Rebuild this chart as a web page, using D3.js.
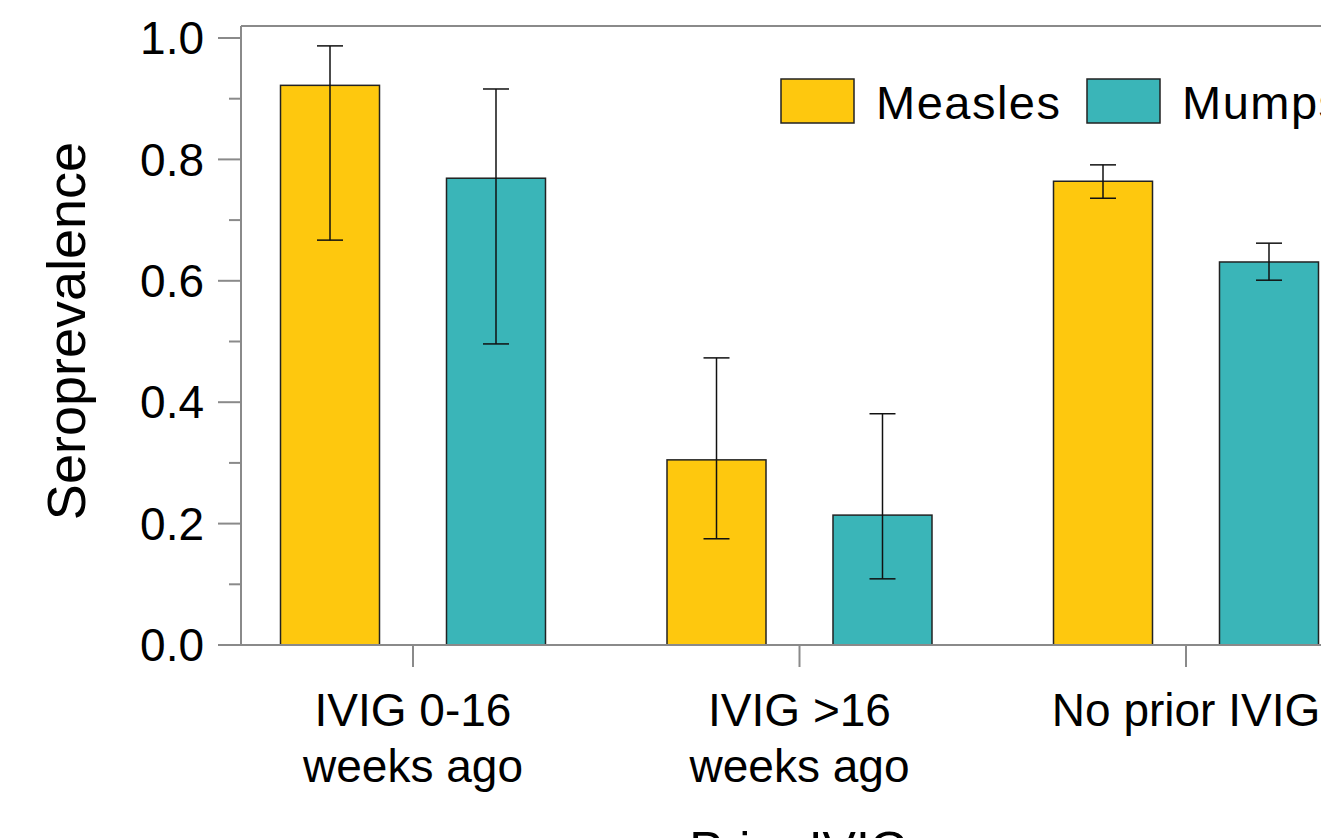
<!DOCTYPE html>
<html>
<head>
<meta charset="utf-8">
<script src="https://cdn.jsdelivr.net/npm/d3@7"></script>
<style>
  body { margin: 0; background: #fff; overflow: hidden; }
  text { font-family: "Liberation Sans", Arial, sans-serif; fill: #000; }
</style>
</head>
<body>
<svg id="chart" width="1321" height="838"></svg>
<script>
// chart data
var categories = [["IVIG 0-16", "weeks ago"], ["IVIG >16", "weeks ago"], ["No prior IVIG"]];
var series = ["Measles", "Mumps"];
var colors = ["#FEC80E", "#3AB5B8"];
var measles = [0.922, 0.305, 0.764];
var measlesLow = [0.667, 0.175, 0.736];
var measlesHigh = [0.987, 0.473, 0.791];
var mumps = [0.769, 0.214, 0.631];
var mumpsLow = [0.496, 0.109, 0.601];
var mumpsHigh = [0.916, 0.381, 0.662];
var yTicks = [0, 0.2, 0.4, 0.6, 0.8, 1.0];
var yMinor = [0.1, 0.3, 0.5, 0.7, 0.9];

var svg = d3.select("#chart");
var left = 241, top_ = 26, bottom = 645;

var y = d3.scaleLinear().domain([0, 1]).range([bottom, 38]);
var x = d3.scaleBand().domain(d3.range(categories.length)).range([219.75, 1379.25]);
var xs = d3.scaleBand().domain(series).range([0, x.bandwidth()])
    .paddingInner(0.4036).paddingOuter(0.366);

var rows = [];
for (var i = 0; i < categories.length; i++) {
  rows.push({c: i, s: "Measles", v: measles[i], lo: measlesLow[i], hi: measlesHigh[i], col: colors[0]});
  rows.push({c: i, s: "Mumps", v: mumps[i], lo: mumpsLow[i], hi: mumpsHigh[i], col: colors[1]});
}

// frame
var axisCol = "#8a8a8a";
svg.append("line").attr("x1", left).attr("x2", 1400).attr("y1", top_).attr("y2", top_)
  .attr("stroke", axisCol).attr("stroke-width", 2);
svg.append("line").attr("x1", left).attr("x2", left).attr("y1", top_).attr("y2", bottom)
  .attr("stroke", axisCol).attr("stroke-width", 2);

// bars
svg.selectAll("rect.bar").data(rows).enter().append("rect")
  .attr("class", "bar")
  .attr("x", function(d){ return x(d.c) + xs(d.s); })
  .attr("width", xs.bandwidth())
  .attr("y", function(d){ return y(d.v); })
  .attr("height", function(d){ return bottom - y(d.v); })
  .attr("fill", function(d){ return d.col; })
  .attr("stroke", "#222").attr("stroke-width", 1.5);

// error bars
var capW = 26;
var eb = svg.selectAll("g.err").data(rows).enter().append("g").attr("class", "err")
  .attr("stroke", "#111").attr("stroke-width", 1.5);
eb.append("line")
  .attr("x1", function(d){ return x(d.c) + xs(d.s) + xs.bandwidth() / 2; })
  .attr("x2", function(d){ return x(d.c) + xs(d.s) + xs.bandwidth() / 2; })
  .attr("y1", function(d){ return y(d.lo); })
  .attr("y2", function(d){ return y(d.hi); });
["lo", "hi"].forEach(function(k){
  eb.append("line")
    .attr("x1", function(d){ return x(d.c) + xs(d.s) + xs.bandwidth() / 2 - capW / 2; })
    .attr("x2", function(d){ return x(d.c) + xs(d.s) + xs.bandwidth() / 2 + capW / 2; })
    .attr("y1", function(d){ return y(d[k]); })
    .attr("y2", function(d){ return y(d[k]); });
});

// y axis ticks
svg.selectAll("line.ymaj").data(yTicks).enter().append("line")
  .attr("x1", 218).attr("x2", left)
  .attr("y1", function(d){ return y(d); }).attr("y2", function(d){ return y(d); })
  .attr("stroke", axisCol).attr("stroke-width", 2);
svg.selectAll("line.ymin").data(yMinor).enter().append("line")
  .attr("x1", 229).attr("x2", left)
  .attr("y1", function(d){ return y(d); }).attr("y2", function(d){ return y(d); })
  .attr("stroke", axisCol).attr("stroke-width", 2);
svg.selectAll("text.ytl").data(yTicks).enter().append("text")
  .attr("x", 204).attr("y", function(d){ return y(d); }).attr("dy", "0.35em")
  .attr("text-anchor", "end").style("font-size", "46px")
  .text(function(d){ return d.toFixed(1); });

// x axis
svg.append("line").attr("x1", 218).attr("x2", 1400).attr("y1", bottom).attr("y2", bottom)
  .attr("stroke", axisCol).attr("stroke-width", 2);
svg.selectAll("line.xt").data(d3.range(categories.length)).enter().append("line")
  .attr("x1", function(d){ return x(d) + x.bandwidth() / 2; })
  .attr("x2", function(d){ return x(d) + x.bandwidth() / 2; })
  .attr("y1", bottom).attr("y2", 667)
  .attr("stroke", axisCol).attr("stroke-width", 2);
var xl = svg.selectAll("text.xl").data(categories).enter().append("text")
  .attr("text-anchor", "middle").style("font-size", "46px")
  .attr("transform", function(d, i){ return "translate(" + (x(i) + x.bandwidth() / 2) + ",726)"; });
xl.selectAll("tspan").data(function(d){ return d; }).enter().append("tspan")
  .attr("x", 0).attr("y", function(d, i){ return i * 56; })
  .text(function(d){ return d; });

// axis titles
svg.append("text").attr("transform", "translate(85,331) rotate(-90)")
  .attr("text-anchor", "middle").style("font-size", "54px").text("Seroprevalence");
svg.append("text").attr("x", 799).attr("y", 867)
  .attr("text-anchor", "middle").style("font-size", "50px").text("Prior IVIG");

// legend
var lgX = [781, 1087];
var lg = svg.selectAll("g.lg").data(series).enter().append("g")
  .attr("transform", function(d, i){ return "translate(" + lgX[i] + ",79)"; });
lg.append("rect").attr("width", 73).attr("height", 44)
  .attr("fill", function(d, i){ return colors[i]; })
  .attr("stroke", "#222").attr("stroke-width", 1.5);
lg.append("text").attr("x", 95).attr("y", 40).style("font-size", "47px")
  .style("letter-spacing", "1.5px")
  .text(function(d){ return d; });
</script>
</body>
</html>
